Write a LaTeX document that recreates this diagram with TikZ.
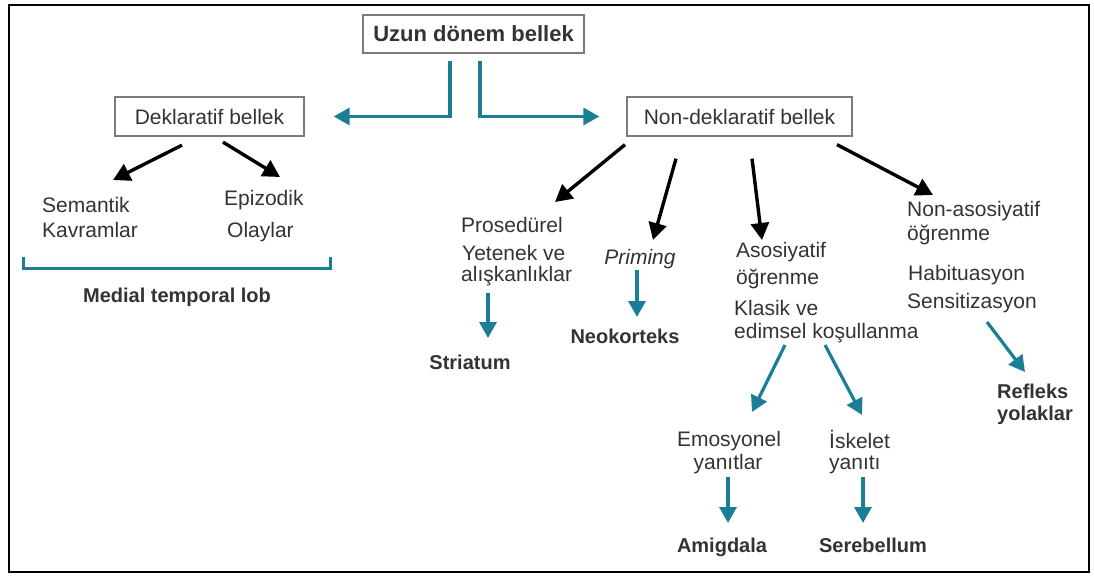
\documentclass[tikz,border=0pt]{standalone}
\usepackage{fontspec}
\setmainfont{Liberation Sans}
\usetikzlibrary{arrows.meta}
\definecolor{tealB}{HTML}{1A7F96}
\definecolor{inkG}{HTML}{333333}
\definecolor{boxG}{HTML}{7A7A7A}

\begin{document}
\begin{tikzpicture}[x=1pt,y=-1pt,
  txt/.style={inner sep=0pt,text=inkG,font=\fontsize{21}{24}\selectfont},
  btxt/.style={inner sep=0pt,text=inkG,font=\fontsize{20}{23}\selectfont\bfseries},
  bx/.style={draw=boxG,line width=1.3pt,inner sep=0pt,text=inkG,font=\fontsize{21}{24}\selectfont},
  blk/.style={line width=3.4pt,black,-{Triangle[length=17pt,width=18pt]}},
  tl/.style={line width=3.2pt,tealB,-{Triangle[length=16pt,width=17pt]}}]
  \useasboundingbox (0,0) rectangle (1094,577);
  \draw[line width=2pt] (9,5) rectangle (1089,572);

  % boxes
  \node[bx,minimum width=221pt,minimum height=38pt,font=\fontsize{22}{24}\selectfont\bfseries] (uzun) at (473.5,34) {Uzun dönem bellek};
  \node[bx,minimum width=189pt,minimum height=39pt] (dekl) at (209.5,116.5) {Deklaratif bellek};
  \node[bx,minimum width=225pt,minimum height=39pt] (nond) at (739.5,116.5) {Non-deklaratif bellek};

  % declarative side
  \node[txt,anchor=base west] (sem) at (42,213) {Semantik};
  \node[txt,anchor=base west] (kav) at (42,237) {Kavramlar};
  \node[txt,anchor=base west] (epi) at (224,206) {Epizodik};
  \node[txt,anchor=base west] (ola) at (227,237) {Olaylar};
  \node[btxt,anchor=base] (mtl) at (177,302) {Medial temporal lob};
  \draw[tealB,line width=3pt] (23,257) |- (330,268) -- (330,257);

  % non-declarative side
  \node[txt,anchor=base west] (pros) at (461,233) {Prosedürel};
  \node[txt,anchor=base west] (yet) at (462,260) {Yetenek ve};
  \node[txt,anchor=base west] (alis) at (461,281) {alışkanlıklar};
  \node[btxt,anchor=base] (str) at (470,369) {Striatum};
  \node[txt,anchor=base,font=\fontsize{21}{24}\selectfont\itshape] (prim) at (640,265) {Priming};
  \node[btxt,anchor=base] (neo) at (625,343) {Neokorteks};
  \node[txt,anchor=base west] (asos) at (736,258) {Asosiyatif};
  \node[txt,anchor=base west] (ogr1) at (736,284) {öğrenme};
  \node[txt,anchor=base west] (klas) at (734,315) {Klasik ve};
  \node[txt,anchor=base west] (edim) at (734,338) {edimsel koşullanma};
  \node[txt,anchor=base west] (nasos) at (907,217) {Non-asosiyatif};
  \node[txt,anchor=base west] (ogr2) at (907,241) {öğrenme};
  \node[txt,anchor=base west] (hab) at (908,280) {Habituasyon};
  \node[txt,anchor=base west] (sens) at (907,308) {Sensitizasyon};
  \node[btxt,anchor=base west] (ref) at (997,398) {Refleks};
  \node[btxt,anchor=base west] (yol) at (997,420) {yolaklar};
  \node[txt,anchor=base] (emo) at (729,446) {Emosyonel};
  \node[txt,anchor=base] (yan1) at (728,469) {yanıtlar};
  \node[txt,anchor=base west] (isk) at (829,448) {İskelet};
  \node[txt,anchor=base west] (yan2) at (829,469) {yanıtı};
  \node[btxt,anchor=base] (amig) at (722,552) {Amigdala};
  \node[btxt,anchor=base] (sere) at (873,552) {Serebellum};

  % teal elbows from the top box
  \draw[tl] ([shift={(-23.5,7)}]uzun.south) |- ([xshift=29pt]dekl.east);
  \draw[tl] ([shift={(6.5,7)}]uzun.south) |- ([xshift=-27pt]nond.west);

  % black branches
  \draw[blk] ([shift={(-27.5,8.5)}]dekl.south) -- ([shift={(71,-33)}]sem.base west);
  \draw[blk] ([shift={(13.5,5.5)}]dekl.south) -- ([shift={(56,-29)}]epi.base west);
  \draw[blk] ([shift={(-114.5,8)}]nond.south) -- ([shift={(94,-31)}]pros.base west);
  \draw[blk] ([shift={(-63.5,22)}]nond.south) -- ([shift={(13,-25)}]prim.base);
  \draw[blk] ([shift={(12.5,22)}]nond.south) -- ([shift={(26,-18)}]asos.base west);
  \draw[blk] ([shift={(97.5,8)}]nond.south) -- ([shift={(26,-22)}]nasos.base west);

  % teal leaves
  \draw[tl] ([shift={(27,12)}]alis.base west) -- ([shift={(18,-31)}]str.base);
  \draw[tl] ([shift={(-3,5)}]prim.base) -- ([shift={(12,-26)}]neo.base);
  \draw[tl] ([shift={(51,7)}]edim.base west) -- ([shift={(23,-34)}]emo.base);
  \draw[tl] ([shift={(91,7)}]edim.base west) -- ([shift={(33,-33)}]isk.base west);
  \draw[tl] ([shift={(80,14)}]sens.base west) -- ([shift={(28,-26)}]ref.base west);
  \draw[tl] ([shift={(0,8)}]yan1.base) -- ([shift={(6,-29)}]amig.base);
  \draw[tl] ([shift={(34,8)}]yan2.base west) -- ([shift={(-10,-29)}]sere.base);
\end{tikzpicture}
\end{document}
